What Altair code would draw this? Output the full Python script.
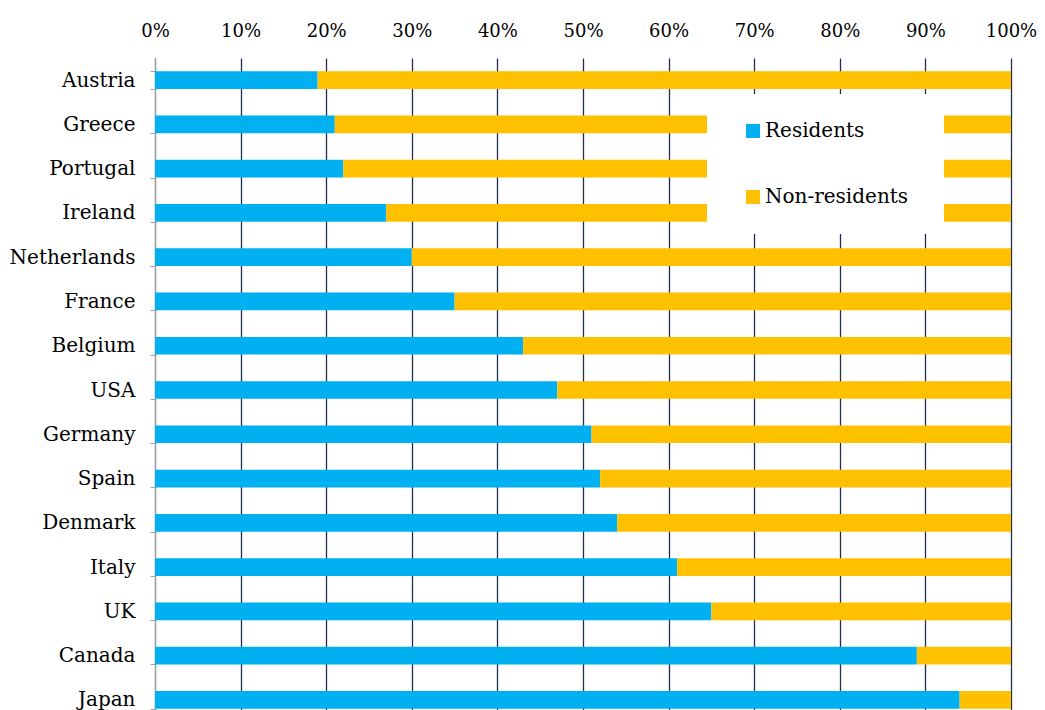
import altair as alt
import pandas as pd

countries = ["Austria", "Greece", "Portugal", "Ireland", "Netherlands", "France",
             "Belgium", "USA", "Germany", "Spain", "Denmark", "Italy", "UK",
             "Canada", "Japan"]
residents = [19, 21, 22, 27, 30, 35, 43, 47, 51, 52, 54, 61, 65, 89, 94]
non_residents = [81, 79, 78, 73, 70, 65, 57, 53, 49, 48, 46, 39, 35, 11, 6]
series = ["Residents", "Non-residents"]
colors = ["#00B0F0", "#FFC000"]

rows = []
for c, r, n in zip(countries, residents, non_residents):
    rows.append({"country": c, "holder": series[0], "share": r / 100, "ord": 0})
    rows.append({"country": c, "holder": series[1], "share": n / 100, "ord": 1})
df = pd.DataFrame(rows)

FONT = "DejaVu Serif"

chart = alt.Chart(df).mark_bar().encode(
    y=alt.Y("country:N", sort=countries, title=None,
            scale=alt.Scale(paddingInner=0.6, paddingOuter=0.3),
            axis=alt.Axis(tickBand="extent", domainColor="#A0A0A0", tickColor="#A0A0A0",
                          tickSize=5, labelPadding=15, labelFont=FONT, labelFontSize=20,
                          labelColor="#000000", grid=False, labelLimit=300)),
    x=alt.X("share:Q", stack="zero", title=None,
            scale=alt.Scale(domain=[0, 1], nice=False),
            axis=alt.Axis(orient="top", format=".0%", values=[i / 10 for i in range(11)],
                          domain=False, ticks=False, labelPadding=18, labelFont=FONT,
                          labelFontSize=18, labelColor="#000000", labelFlush=False,
                          grid=True, gridColor="#1F2E4A", gridWidth=1.3)),
    color=alt.Color("holder:N", sort=series,
                    scale=alt.Scale(domain=series, range=colors),
                    legend=alt.Legend(title=" ", titleOrient="right", titlePadding=9,
                                      orient="none", legendX=552, legendY=36,
                                      fillColor="white", padding=27, symbolOffset=9,
                                      symbolType="square", symbolSize=196,
                                      symbolStrokeWidth=0, rowPadding=46,
                                      labelFont=FONT, labelFontSize=20,
                                      labelColor="#000000", labelOffset=2)),
    order=alt.Order("ord:Q"),
).properties(
    width=856, height=664,
    autosize=alt.AutoSizeParams(type="none"),
    padding={"left": 147, "top": 50, "right": 26, "bottom": 5},
).configure_view(stroke=None)

chart.save("out.html", embed_options={"renderer": "svg", "actions": False})
